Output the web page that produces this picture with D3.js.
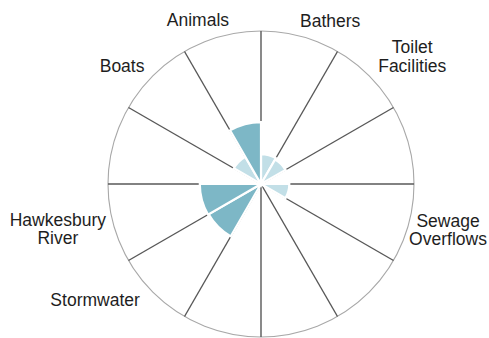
<!DOCTYPE html>
<html>
<head>
<meta charset="utf-8">
<script src="https://cdn.jsdelivr.net/npm/d3@7"></script>
<style>
  html, body { margin: 0; padding: 0; background: #fff; }
  svg { display: block; }
  text { font-family: "Liberation Sans", Arial, sans-serif; }
</style>
</head>
<body>
<svg id="chart" width="489" height="338"></svg>
<script>
// ---- data (12 slots around the circle, clockwise from 12 o'clock) ----
const categories = ["Bathers", "Toilet Facilities", "", "Sewage Overflows", "", "", "",
                    "Stormwater", "Hawkesbury River", "", "Boats", "Animals"];
const values = [19.5, 18.5, 0, 18.5, 0, 0, 0, 39.5, 40, 0, 20.5, 40.5];
const valueMax = 100;
const levelThreshold = [30];

// ---- layout (not data) ----
const W = 489, H = 338;
const cx = 261, cy = 184, R = 153;
// label placement: polar angle (deg, clockwise from top) and distance of the label block centre
const labelLayout = {
  "Animals": [339, 176],
  "Bathers": [23, 177],
  "Toilet Facilities": [49.8, 198],
  "Sewage Overflows": [103.7, 192.5],
  "Stormwater": [235.1, 202.3],
  "Hawkesbury River": [257.6, 208],
  "Boats": [310.5, 182.7]
};
const labelLines = {
  "Toilet Facilities": ["Toilet", "Facilities"],
  "Sewage Overflows": ["Sewage", "Overflows"],
  "Hawkesbury River": ["Hawkesbury", "River"]
};

const svg = d3.select("#chart");
const g = svg.append("g").attr("transform", `translate(${cx},${cy})`);

const x = d3.scaleBand().domain(d3.range(categories.length)).range([0, 2 * Math.PI]).padding(0);
const y = d3.scaleLinear().domain([0, valueMax]).range([0, R]);
const color = d3.scaleThreshold().domain(levelThreshold).range(["#c2dfe7", "#7db7c6"]);

// outer circle
g.append("circle").attr("r", R).attr("fill", "#fff").attr("stroke", "#a8a8a8").attr("stroke-width", 1.1);

// spokes
g.selectAll("line.spoke").data(d3.range(categories.length)).join("line")
  .attr("class", "spoke")
  .attr("x1", 0).attr("y1", 0)
  .attr("x2", i => d3.pointRadial(x(i), R)[0])
  .attr("y2", i => d3.pointRadial(x(i), R)[1])
  .attr("stroke", "#585858").attr("stroke-width", 1.4);

// bars
const arc = d3.arc()
  .innerRadius(0)
  .outerRadius(d => y(d.v))
  .startAngle(d => x(d.i))
  .endAngle(d => x(d.i) + x.bandwidth());

g.selectAll("path.bar").data(values.map((v, i) => ({ v, i })).filter(d => d.v > 0)).join("path")
  .attr("class", "bar")
  .attr("d", arc)
  .attr("fill", d => color(d.v))
  .attr("stroke", "#fff").attr("stroke-width", 2.2).attr("stroke-linejoin", "miter");

// labels
const fs = 17.5, lh = 18.5, capHalf = 6.3;
const labels = categories.filter(c => c !== "");
labels.forEach(name => {
  const [deg, dist] = labelLayout[name];
  const [px, py] = d3.pointRadial(deg * Math.PI / 180, dist);
  const lines = labelLines[name] || [name];
  const t = g.append("text")
    .attr("text-anchor", "middle")
    .attr("font-size", fs)
    .attr("fill", "#1e1e1e");
  lines.forEach((ln, k) => {
    t.append("tspan")
      .attr("x", px)
      .attr("y", py + capHalf + (k - (lines.length - 1) / 2) * lh)
      .text(ln);
  });
});
</script>
</body>
</html>
